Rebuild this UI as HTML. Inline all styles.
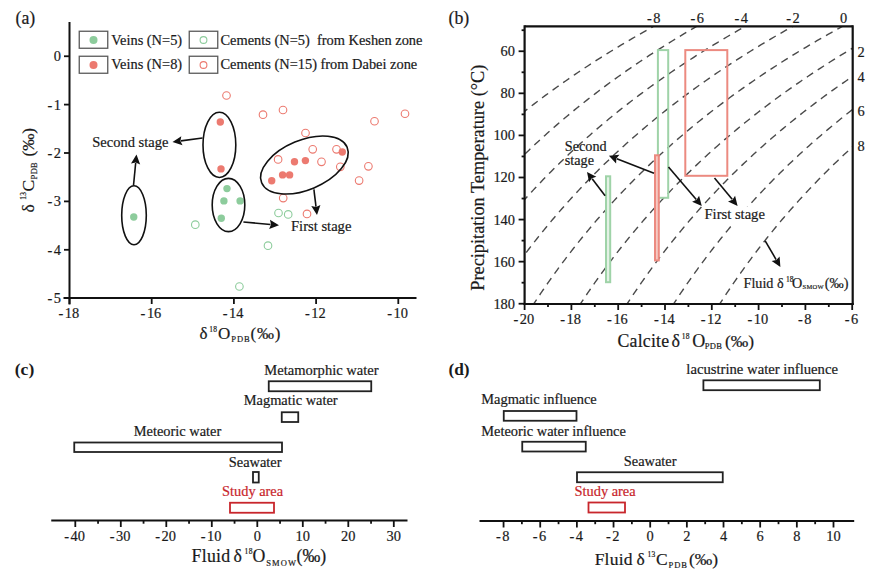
<!DOCTYPE html>
<html><head><meta charset="utf-8"><style>
html,body{margin:0;padding:0;background:#fff;}
svg{display:block;font-family:"Liberation Serif", serif;}
text{stroke-width:0.2px;}
</style></head><body>
<svg width="878" height="576" viewBox="0 0 878 576" style="font-family:&quot;Liberation Serif&quot;, serif">
<rect width="878" height="576" fill="#fff"/>
<text x="15.5" y="23.5" font-size="17.8" text-anchor="start" font-weight="normal"  fill="#1a1a1a" stroke="#1a1a1a">(a)</text>
<line x1="69.5" y1="22" x2="69.5" y2="304.5" stroke="#111" stroke-width="2"/>
<line x1="63.5" y1="298" x2="416.5" y2="298" stroke="#111" stroke-width="2"/>
<line x1="64" y1="56.25" x2="69.5" y2="56.25" stroke="#111" stroke-width="1.8"/>
<text x="61" y="61.25" font-size="14.4" text-anchor="end" fill="#1a1a1a" stroke="#1a1a1a">0</text>
<line x1="64" y1="104.6" x2="69.5" y2="104.6" stroke="#111" stroke-width="1.8"/>
<text x="61" y="109.6" font-size="14.4" text-anchor="end" fill="#1a1a1a" stroke="#1a1a1a">-<tspan dx="1.5">1</tspan></text>
<line x1="64" y1="153.0" x2="69.5" y2="153.0" stroke="#111" stroke-width="1.8"/>
<text x="61" y="158.0" font-size="14.4" text-anchor="end" fill="#1a1a1a" stroke="#1a1a1a">-<tspan dx="1.5">2</tspan></text>
<line x1="64" y1="201.4" x2="69.5" y2="201.4" stroke="#111" stroke-width="1.8"/>
<text x="61" y="206.4" font-size="14.4" text-anchor="end" fill="#1a1a1a" stroke="#1a1a1a">-<tspan dx="1.5">3</tspan></text>
<line x1="64" y1="249.8" x2="69.5" y2="249.8" stroke="#111" stroke-width="1.8"/>
<text x="61" y="254.8" font-size="14.4" text-anchor="end" fill="#1a1a1a" stroke="#1a1a1a">-<tspan dx="1.5">4</tspan></text>
<line x1="64" y1="298.0" x2="69.5" y2="298.0" stroke="#111" stroke-width="1.8"/>
<text x="61" y="303.0" font-size="14.4" text-anchor="end" fill="#1a1a1a" stroke="#1a1a1a">-<tspan dx="1.5">5</tspan></text>
<line x1="69.5" y1="298" x2="69.5" y2="304" stroke="#111" stroke-width="1.8"/>
<text x="68.75" y="317.5" font-size="14.4" text-anchor="middle" fill="#1a1a1a" stroke="#1a1a1a">-<tspan dx="1.5">18</tspan></text>
<line x1="151.7" y1="298" x2="151.7" y2="304" stroke="#111" stroke-width="1.8"/>
<text x="150.95" y="317.5" font-size="14.4" text-anchor="middle" fill="#1a1a1a" stroke="#1a1a1a">-<tspan dx="1.5">16</tspan></text>
<line x1="233.9" y1="298" x2="233.9" y2="304" stroke="#111" stroke-width="1.8"/>
<text x="233.15" y="317.5" font-size="14.4" text-anchor="middle" fill="#1a1a1a" stroke="#1a1a1a">-<tspan dx="1.5">14</tspan></text>
<line x1="316.1" y1="298" x2="316.1" y2="304" stroke="#111" stroke-width="1.8"/>
<text x="315.35" y="317.5" font-size="14.4" text-anchor="middle" fill="#1a1a1a" stroke="#1a1a1a">-<tspan dx="1.5">12</tspan></text>
<line x1="398.3" y1="298" x2="398.3" y2="304" stroke="#111" stroke-width="1.8"/>
<text x="397.55" y="317.5" font-size="14.4" text-anchor="middle" fill="#1a1a1a" stroke="#1a1a1a">-<tspan dx="1.5">10</tspan></text>
<text fill="#1a1a1a" stroke="#1a1a1a"><tspan x="199.6" y="338.9" font-size="17" letter-spacing="0">δ</tspan><tspan x="209.2" y="332.29999999999995" font-size="7.5" letter-spacing="0.3">18</tspan><tspan x="218.1" y="338.9" font-size="17" letter-spacing="0">O</tspan><tspan x="231.3" y="342.09999999999997" font-size="8.5" letter-spacing="0.9">PDB</tspan><tspan x="250.6" y="338.9" font-size="17" letter-spacing="0.8">(‰)</tspan></text>
<text transform="rotate(-90)" fill="#1a1a1a" stroke="#1a1a1a"><tspan x="-212.4" y="34" font-size="17.5" letter-spacing="0">δ</tspan><tspan x="-199.8" y="25.7" font-size="7.5" letter-spacing="0.3">13</tspan><tspan x="-191.6" y="34" font-size="17.5" letter-spacing="0">C</tspan><tspan x="-179.4" y="36.5" font-size="8.5" letter-spacing="0.3">PDB</tspan><tspan x="-156.6" y="34" font-size="17.2" letter-spacing="0">(‰)</tspan></text>
<rect x="79.25" y="31.25" width="28.5" height="17" fill="none" stroke="#5a5a5a" stroke-width="1.3"/>
<rect x="189.25" y="31.25" width="28.5" height="17" fill="none" stroke="#5a5a5a" stroke-width="1.3"/>
<rect x="79.25" y="56.25" width="28.5" height="17" fill="none" stroke="#5a5a5a" stroke-width="1.3"/>
<rect x="189.25" y="56.25" width="28.5" height="17" fill="none" stroke="#5a5a5a" stroke-width="1.3"/>
<circle cx="93.5" cy="40" r="4" fill="#8dcc9c"/>
<circle cx="203.5" cy="40" r="3.4" fill="none" stroke="#8dcc9c" stroke-width="1.1"/>
<circle cx="93.5" cy="65" r="4" fill="#ec7a70"/>
<circle cx="203.5" cy="65" r="3.4" fill="none" stroke="#ec7a70" stroke-width="1.1"/>
<text x="111.25" y="44.5" font-size="14.4" text-anchor="start" font-weight="normal"  fill="#1a1a1a" stroke="#1a1a1a">Veins (N=5)</text>
<text x="111.25" y="69" font-size="14.4" text-anchor="start" font-weight="normal"  fill="#1a1a1a" stroke="#1a1a1a">Veins (N=8)</text>
<text x="220.5" y="44.5" font-size="14.4" text-anchor="start" font-weight="normal"  fill="#1a1a1a" stroke="#1a1a1a">Cements (N=5)&#160; from Keshen zone</text>
<text x="220.5" y="69" font-size="14.4" text-anchor="start" font-weight="normal"  fill="#1a1a1a" stroke="#1a1a1a">Cements (N=15) from Dabei zone</text>
<circle cx="226.5" cy="95.5" r="3.8" fill="none" stroke="#ec7a70" stroke-width="1.1"/>
<circle cx="263" cy="114.7" r="3.8" fill="none" stroke="#ec7a70" stroke-width="1.1"/>
<circle cx="283" cy="110" r="3.8" fill="none" stroke="#ec7a70" stroke-width="1.1"/>
<circle cx="374.5" cy="121.25" r="3.8" fill="none" stroke="#ec7a70" stroke-width="1.1"/>
<circle cx="405" cy="113.75" r="3.8" fill="none" stroke="#ec7a70" stroke-width="1.1"/>
<circle cx="305.5" cy="133" r="3.8" fill="none" stroke="#ec7a70" stroke-width="1.1"/>
<circle cx="312.7" cy="149.3" r="3.8" fill="none" stroke="#ec7a70" stroke-width="1.1"/>
<circle cx="336.5" cy="149.3" r="3.8" fill="none" stroke="#ec7a70" stroke-width="1.1"/>
<circle cx="278.1" cy="159.4" r="3.8" fill="none" stroke="#ec7a70" stroke-width="1.1"/>
<circle cx="321.5" cy="161.8" r="3.8" fill="none" stroke="#ec7a70" stroke-width="1.1"/>
<circle cx="340.3" cy="166.8" r="3.8" fill="none" stroke="#ec7a70" stroke-width="1.1"/>
<circle cx="368.4" cy="166.3" r="3.8" fill="none" stroke="#ec7a70" stroke-width="1.1"/>
<circle cx="359.1" cy="180.6" r="3.8" fill="none" stroke="#ec7a70" stroke-width="1.1"/>
<circle cx="283.2" cy="198.1" r="3.8" fill="none" stroke="#ec7a70" stroke-width="1.1"/>
<circle cx="307" cy="213.9" r="3.8" fill="none" stroke="#ec7a70" stroke-width="1.1"/>
<circle cx="195.3" cy="224.7" r="3.8" fill="none" stroke="#8dcc9c" stroke-width="1.1"/>
<circle cx="278.5" cy="213" r="3.8" fill="none" stroke="#8dcc9c" stroke-width="1.1"/>
<circle cx="288.2" cy="214.4" r="3.8" fill="none" stroke="#8dcc9c" stroke-width="1.1"/>
<circle cx="268" cy="245.7" r="3.8" fill="none" stroke="#8dcc9c" stroke-width="1.1"/>
<circle cx="239.4" cy="286.5" r="3.8" fill="none" stroke="#8dcc9c" stroke-width="1.1"/>
<circle cx="220.3" cy="122" r="3.7" fill="#ec7a70"/>
<circle cx="221" cy="168.9" r="3.7" fill="#ec7a70"/>
<circle cx="342.3" cy="152" r="3.7" fill="#ec7a70"/>
<circle cx="294.5" cy="161.8" r="3.7" fill="#ec7a70"/>
<circle cx="305.4" cy="160.6" r="3.7" fill="#ec7a70"/>
<circle cx="282.6" cy="174.9" r="3.7" fill="#ec7a70"/>
<circle cx="289.6" cy="174.9" r="3.7" fill="#ec7a70"/>
<circle cx="271.7" cy="180.7" r="3.7" fill="#ec7a70"/>
<circle cx="133.75" cy="217" r="3.7" fill="#8dcc9c"/>
<circle cx="227" cy="188.6" r="3.7" fill="#8dcc9c"/>
<circle cx="223.9" cy="200.9" r="3.7" fill="#8dcc9c"/>
<circle cx="240.1" cy="200.9" r="3.7" fill="#8dcc9c"/>
<circle cx="221.3" cy="218.3" r="3.7" fill="#8dcc9c"/>
<ellipse cx="134" cy="215.3" rx="12.3" ry="29.5" transform="rotate(0 134 215.3)" fill="none" stroke="#111" stroke-width="1.6"/>
<ellipse cx="219.4" cy="144.9" rx="16.4" ry="32.6" transform="rotate(0 219.4 144.9)" fill="none" stroke="#111" stroke-width="1.6"/>
<ellipse cx="228.5" cy="205" rx="16.3" ry="26.6" transform="rotate(0 228.5 205)" fill="none" stroke="#111" stroke-width="1.6"/>
<ellipse cx="304.4" cy="165" rx="46.3" ry="24.8" transform="rotate(-22.6 304.4 165)" fill="none" stroke="#111" stroke-width="1.6"/>
<line x1="202.5" y1="138" x2="180.93" y2="140.88" stroke="#111" stroke-width="1.6"/>
<polygon points="172.50,142.00 181.31,136.18 180.43,140.94 182.52,145.30" fill="#111"/>
<line x1="133.5" y1="185.5" x2="135.68" y2="162.96" stroke="#111" stroke-width="1.6"/>
<polygon points="136.50,154.50 140.16,164.40 135.73,162.46 131.01,163.51" fill="#111"/>
<line x1="243.4" y1="222" x2="270.53" y2="224.44" stroke="#111" stroke-width="1.6"/>
<polygon points="279.00,225.20 269.13,228.93 271.03,224.48 269.95,219.77" fill="#111"/>
<line x1="313.9" y1="189.4" x2="315.98" y2="206.56" stroke="#111" stroke-width="1.6"/>
<polygon points="317.00,215.00 311.29,206.12 316.04,207.06 320.42,205.02" fill="#111"/>
<text x="92.3" y="146.9" font-size="14.5" text-anchor="start" font-weight="normal" stroke="#1a1a1a" stroke-width="0.6" fill="#1a1a1a">Second stage</text>
<text x="291" y="231.1" font-size="14.6" text-anchor="start" font-weight="normal" stroke="#1a1a1a" stroke-width="0.6" fill="#1a1a1a">First stage</text>
<text x="448.5" y="24" font-size="17.8" text-anchor="start" font-weight="normal"  fill="#1a1a1a" stroke="#1a1a1a">(b)</text>
<clipPath id="cb"><rect x="524.6" y="26.3" width="328.1" height="277.7"/></clipPath>
<g clip-path="url(#cb)" fill="none" stroke="#4a4a4a" stroke-width="1.4" stroke-dasharray="7.5 5.5">
<polyline points="347.98,305.83 349.33,303.73 350.70,301.63 352.07,299.52 353.45,297.42 354.84,295.31 356.24,293.21 357.65,291.11 359.07,289.00 360.49,286.90 361.93,284.79 363.38,282.69 364.84,280.59 366.30,278.48 367.78,276.38 369.27,274.27 370.76,272.17 372.27,270.07 373.79,267.96 375.32,265.86 376.86,263.75 378.41,261.65 379.97,259.55 381.54,257.44 383.12,255.34 384.71,253.23 386.32,251.13 387.93,249.03 389.56,246.92 391.20,244.82 392.85,242.71 394.51,240.61 396.19,238.51 397.87,236.40 399.57,234.30 401.28,232.19 403.00,230.09 404.74,227.99 406.49,225.88 408.25,223.78 410.02,221.67 411.80,219.57 413.60,217.47 415.41,215.36 417.24,213.26 419.08,211.15 420.93,209.05 422.79,206.95 424.67,204.84 426.57,202.74 428.47,200.63 430.40,198.53 432.33,196.43 434.28,194.32 436.25,192.22 438.23,190.11 440.22,188.01 442.23,185.91 444.26,183.80 446.30,181.70 448.35,179.59 450.43,177.49 452.51,175.39 454.62,173.28 456.74,171.18 458.87,169.07 461.03,166.97 463.20,164.87 465.38,162.76 467.59,160.66 469.81,158.55 472.04,156.45 474.30,154.35 476.57,152.24 478.86,150.14 481.17,148.03 483.50,145.93 485.85,143.83 488.21,141.72 490.60,139.62 493.00,137.51 495.42,135.41 497.87,133.31 500.33,131.20 502.81,129.10 505.31,126.99 507.83,124.89 510.38,122.79 512.94,120.68 515.53,118.58 518.13,116.47 520.76,114.37 523.41,112.27 526.08,110.16 528.78,108.06 531.49,105.95 534.23,103.85 537.00,101.75 539.78,99.64 542.59,97.54 545.42,95.43 548.28,93.33 551.16,91.23 554.07,89.12 557.00,87.02 559.96,84.91 562.94,82.81 565.95,80.71 568.98,78.60 572.04,76.50 575.13,74.39 578.24,72.29 581.38,70.19 584.55,68.08 587.75,65.98 590.97,63.87 594.23,61.77 597.51,59.67 600.82,57.56 604.17,55.46 607.54,53.35 610.94,51.25 614.37,49.15 617.84,47.04 621.33,44.94 624.86,42.83 628.42,40.73 632.02,38.63 635.64,36.52 639.30,34.42 642.99,32.31 646.72,30.21 650.49,28.11 654.28,26.00 658.12,23.90 661.99,21.79"/>
<polyline points="403.34,305.83 404.64,303.73 405.95,301.63 407.27,299.52 408.59,297.42 409.93,295.31 411.27,293.21 412.62,291.11 413.99,289.00 415.36,286.90 416.74,284.79 418.13,282.69 419.52,280.59 420.93,278.48 422.35,276.38 423.78,274.27 425.22,272.17 426.66,270.07 428.12,267.96 429.59,265.86 431.07,263.75 432.55,261.65 434.05,259.55 435.56,257.44 437.08,255.34 438.61,253.23 440.15,251.13 441.70,249.03 443.26,246.92 444.83,244.82 446.42,242.71 448.01,240.61 449.62,238.51 451.24,236.40 452.87,234.30 454.51,232.19 456.16,230.09 457.83,227.99 459.51,225.88 461.20,223.78 462.90,221.67 464.61,219.57 466.34,217.47 468.08,215.36 469.83,213.26 471.60,211.15 473.37,209.05 475.16,206.95 476.97,204.84 478.79,202.74 480.62,200.63 482.46,198.53 484.32,196.43 486.19,194.32 488.08,192.22 489.98,190.11 491.89,188.01 493.82,185.91 495.77,183.80 497.73,181.70 499.70,179.59 501.69,177.49 503.69,175.39 505.71,173.28 507.75,171.18 509.80,169.07 511.86,166.97 513.95,164.87 516.05,162.76 518.16,160.66 520.29,158.55 522.44,156.45 524.61,154.35 526.79,152.24 528.99,150.14 531.21,148.03 533.44,145.93 535.69,143.83 537.96,141.72 540.25,139.62 542.56,137.51 544.89,135.41 547.23,133.31 549.59,131.20 551.98,129.10 554.38,126.99 556.80,124.89 559.24,122.79 561.70,120.68 564.18,118.58 566.69,116.47 569.21,114.37 571.75,112.27 574.32,110.16 576.90,108.06 579.51,105.95 582.14,103.85 584.79,101.75 587.47,99.64 590.16,97.54 592.88,95.43 595.63,93.33 598.39,91.23 601.18,89.12 604.00,87.02 606.83,84.91 609.70,82.81 612.58,80.71 615.50,78.60 618.43,76.50 621.40,74.39 624.39,72.29 627.40,70.19 630.45,68.08 633.51,65.98 636.61,63.87 639.73,61.77 642.89,59.67 646.07,57.56 649.27,55.46 652.51,53.35 655.78,51.25 659.07,49.15 662.40,47.04 665.76,44.94 669.14,42.83 672.56,40.73 676.01,38.63 679.49,36.52 683.00,34.42 686.55,32.31 690.13,30.21 693.74,28.11 697.38,26.00 701.06,23.90 704.78,21.79"/>
<polyline points="444.37,305.83 445.71,303.73 447.05,301.63 448.40,299.52 449.76,297.42 451.13,295.31 452.51,293.21 453.89,291.11 455.29,289.00 456.69,286.90 458.11,284.79 459.54,282.69 460.97,280.59 462.41,278.48 463.87,276.38 465.33,274.27 466.81,272.17 468.29,270.07 469.79,267.96 471.29,265.86 472.81,263.75 474.33,261.65 475.87,259.55 477.42,257.44 478.97,255.34 480.54,253.23 482.12,251.13 483.71,249.03 485.32,246.92 486.93,244.82 488.55,242.71 490.19,240.61 491.84,238.51 493.50,236.40 495.17,234.30 496.85,232.19 498.55,230.09 500.26,227.99 501.98,225.88 503.71,223.78 505.46,221.67 507.21,219.57 508.99,217.47 510.77,215.36 512.57,213.26 514.38,211.15 516.20,209.05 518.04,206.95 519.89,204.84 521.75,202.74 523.63,200.63 525.52,198.53 527.43,196.43 529.35,194.32 531.28,192.22 533.23,190.11 535.20,188.01 537.18,185.91 539.17,183.80 541.18,181.70 543.20,179.59 545.24,177.49 547.30,175.39 549.37,173.28 551.46,171.18 553.56,169.07 555.68,166.97 557.82,164.87 559.97,162.76 562.14,160.66 564.32,158.55 566.53,156.45 568.75,154.35 570.99,152.24 573.24,150.14 575.52,148.03 577.81,145.93 580.12,143.83 582.45,141.72 584.80,139.62 587.16,137.51 589.55,135.41 591.95,133.31 594.38,131.20 596.82,129.10 599.28,126.99 601.77,124.89 604.27,122.79 606.80,120.68 609.34,118.58 611.91,116.47 614.49,114.37 617.10,112.27 619.73,110.16 622.39,108.06 625.06,105.95 627.76,103.85 630.48,101.75 633.22,99.64 635.99,97.54 638.78,95.43 641.59,93.33 644.43,91.23 647.29,89.12 650.18,87.02 653.09,84.91 656.02,82.81 658.98,80.71 661.97,78.60 664.98,76.50 668.02,74.39 671.09,72.29 674.18,70.19 677.30,68.08 680.45,65.98 683.63,63.87 686.83,61.77 690.06,59.67 693.32,57.56 696.62,55.46 699.94,53.35 703.29,51.25 706.67,49.15 710.08,47.04 713.52,44.94 716.99,42.83 720.50,40.73 724.04,38.63 727.61,36.52 731.21,34.42 734.85,32.31 738.52,30.21 742.22,28.11 745.96,26.00 749.73,23.90 753.54,21.79"/>
<polyline points="489.19,305.83 490.54,303.73 491.89,301.63 493.25,299.52 494.62,297.42 496.01,295.31 497.40,293.21 498.80,291.11 500.20,289.00 501.62,286.90 503.05,284.79 504.49,282.69 505.94,280.59 507.39,278.48 508.86,276.38 510.34,274.27 511.83,272.17 513.32,270.07 514.83,267.96 516.35,265.86 517.88,263.75 519.42,261.65 520.97,259.55 522.53,257.44 524.10,255.34 525.68,253.23 527.28,251.13 528.88,249.03 530.50,246.92 532.13,244.82 533.77,242.71 535.42,240.61 537.08,238.51 538.76,236.40 540.44,234.30 542.14,232.19 543.85,230.09 545.58,227.99 547.31,225.88 549.06,223.78 550.82,221.67 552.59,219.57 554.38,217.47 556.18,215.36 557.99,213.26 559.82,211.15 561.66,209.05 563.51,206.95 565.38,204.84 567.26,202.74 569.16,200.63 571.06,198.53 572.99,196.43 574.93,194.32 576.88,192.22 578.84,190.11 580.83,188.01 582.82,185.91 584.83,183.80 586.86,181.70 588.90,179.59 590.96,177.49 593.04,175.39 595.13,173.28 597.23,171.18 599.35,169.07 601.49,166.97 603.65,164.87 605.82,162.76 608.01,160.66 610.21,158.55 612.44,156.45 614.68,154.35 616.94,152.24 619.21,150.14 621.51,148.03 623.82,145.93 626.15,143.83 628.50,141.72 630.87,139.62 633.26,137.51 635.66,135.41 638.09,133.31 640.53,131.20 643.00,129.10 645.49,126.99 647.99,124.89 650.52,122.79 653.06,120.68 655.63,118.58 658.22,116.47 660.83,114.37 663.46,112.27 666.12,110.16 668.80,108.06 671.49,105.95 674.22,103.85 676.96,101.75 679.73,99.64 682.52,97.54 685.33,95.43 688.17,93.33 691.03,91.23 693.92,89.12 696.83,87.02 699.77,84.91 702.73,82.81 705.72,80.71 708.73,78.60 711.77,76.50 714.84,74.39 717.93,72.29 721.05,70.19 724.20,68.08 727.38,65.98 730.58,63.87 733.82,61.77 737.08,59.67 740.37,57.56 743.69,55.46 747.04,53.35 750.42,51.25 753.83,49.15 757.27,47.04 760.74,44.94 764.25,42.83 767.78,40.73 771.35,38.63 774.96,36.52 778.59,34.42 782.26,32.31 785.96,30.21 789.70,28.11 793.47,26.00 797.28,23.90 801.13,21.79"/>
<polyline points="532.47,305.83 533.85,303.73 535.23,301.63 536.62,299.52 538.02,297.42 539.43,295.31 540.85,293.21 542.28,291.11 543.72,289.00 545.17,286.90 546.63,284.79 548.10,282.69 549.57,280.59 551.06,278.48 552.56,276.38 554.07,274.27 555.59,272.17 557.12,270.07 558.66,267.96 560.21,265.86 561.77,263.75 563.34,261.65 564.93,259.55 566.52,257.44 568.13,255.34 569.74,253.23 571.37,251.13 573.01,249.03 574.66,246.92 576.32,244.82 578.00,242.71 579.68,240.61 581.38,238.51 583.09,236.40 584.81,234.30 586.55,232.19 588.30,230.09 590.06,227.99 591.83,225.88 593.61,223.78 595.41,221.67 597.22,219.57 599.05,217.47 600.89,215.36 602.74,213.26 604.60,211.15 606.48,209.05 608.38,206.95 610.28,204.84 612.20,202.74 614.14,200.63 616.09,198.53 618.05,196.43 620.03,194.32 622.02,192.22 624.03,190.11 626.06,188.01 628.10,185.91 630.15,183.80 632.22,181.70 634.31,179.59 636.41,177.49 638.53,175.39 640.66,173.28 642.81,171.18 644.98,169.07 647.16,166.97 649.36,164.87 651.58,162.76 653.82,160.66 656.07,158.55 658.34,156.45 660.63,154.35 662.93,152.24 665.26,150.14 667.60,148.03 669.96,145.93 672.34,143.83 674.74,141.72 677.16,139.62 679.60,137.51 682.06,135.41 684.54,133.31 687.03,131.20 689.55,129.10 692.09,126.99 694.65,124.89 697.23,122.79 699.83,120.68 702.45,118.58 705.10,116.47 707.76,114.37 710.45,112.27 713.16,110.16 715.90,108.06 718.65,105.95 721.43,103.85 724.23,101.75 727.06,99.64 729.91,97.54 732.78,95.43 735.68,93.33 738.61,91.23 741.56,89.12 744.53,87.02 747.53,84.91 750.55,82.81 753.61,80.71 756.68,78.60 759.79,76.50 762.92,74.39 766.08,72.29 769.27,70.19 772.48,68.08 775.72,65.98 779.00,63.87 782.30,61.77 785.63,59.67 788.99,57.56 792.38,55.46 795.80,53.35 799.25,51.25 802.74,49.15 806.25,47.04 809.80,44.94 813.38,42.83 816.99,40.73 820.63,38.63 824.31,36.52 828.03,34.42 831.77,32.31 835.55,30.21 839.37,28.11 843.22,26.00 847.11,23.90 851.04,21.79"/>
<polyline points="579.15,305.83 580.53,303.73 581.92,301.63 583.32,299.52 584.73,297.42 586.15,295.31 587.58,293.21 589.01,291.11 590.46,289.00 591.92,286.90 593.38,284.79 594.86,282.69 596.35,280.59 597.84,278.48 599.35,276.38 600.87,274.27 602.40,272.17 603.93,270.07 605.48,267.96 607.04,265.86 608.61,263.75 610.19,261.65 611.79,259.55 613.39,257.44 615.00,255.34 616.63,253.23 618.27,251.13 619.91,249.03 621.57,246.92 623.25,244.82 624.93,242.71 626.63,240.61 628.33,238.51 630.05,236.40 631.79,234.30 633.53,232.19 635.29,230.09 637.06,227.99 638.84,225.88 640.64,223.78 642.44,221.67 644.27,219.57 646.10,217.47 647.95,215.36 649.81,213.26 651.69,211.15 653.58,209.05 655.48,206.95 657.40,204.84 659.33,202.74 661.27,200.63 663.24,198.53 665.21,196.43 667.20,194.32 669.21,192.22 671.23,190.11 673.26,188.01 675.31,185.91 677.38,183.80 679.46,181.70 681.56,179.59 683.67,177.49 685.80,175.39 687.95,173.28 690.11,171.18 692.29,169.07 694.48,166.97 696.70,164.87 698.93,162.76 701.18,160.66 703.44,158.55 705.73,156.45 708.03,154.35 710.35,152.24 712.68,150.14 715.04,148.03 717.42,145.93 719.81,143.83 722.22,141.72 724.65,139.62 727.11,137.51 729.58,135.41 732.07,133.31 734.58,131.20 737.11,129.10 739.67,126.99 742.24,124.89 744.83,122.79 747.45,120.68 750.09,118.58 752.75,116.47 755.43,114.37 758.13,112.27 760.86,110.16 763.61,108.06 766.38,105.95 769.17,103.85 771.99,101.75 774.83,99.64 777.70,97.54 780.59,95.43 783.51,93.33 786.45,91.23 789.41,89.12 792.40,87.02 795.42,84.91 798.46,82.81 801.53,80.71 804.62,78.60 807.75,76.50 810.90,74.39 814.07,72.29 817.28,70.19 820.51,68.08 823.77,65.98 827.06,63.87 830.38,61.77 833.73,59.67 837.11,57.56 840.52,55.46 843.96,53.35 847.43,51.25 850.94,49.15 854.47,47.04 858.04,44.94 861.64,42.83 865.27,40.73 868.93,38.63 872.63,36.52 876.37,34.42 880.14,32.31 883.94,30.21 887.78,28.11 891.65,26.00 895.56,23.90 899.51,21.79"/>
<polyline points="625.83,305.83 627.20,303.73 628.58,301.63 629.97,299.52 631.36,297.42 632.77,295.31 634.19,293.21 635.61,291.11 637.05,289.00 638.49,286.90 639.94,284.79 641.41,282.69 642.88,280.59 644.36,278.48 645.86,276.38 647.36,274.27 648.88,272.17 650.40,270.07 651.94,267.96 653.48,265.86 655.04,263.75 656.61,261.65 658.19,259.55 659.78,257.44 661.38,255.34 662.99,253.23 664.61,251.13 666.25,249.03 667.89,246.92 669.55,244.82 671.22,242.71 672.90,240.61 674.59,238.51 676.30,236.40 678.01,234.30 679.74,232.19 681.49,230.09 683.24,227.99 685.01,225.88 686.79,223.78 688.58,221.67 690.39,219.57 692.21,217.47 694.04,215.36 695.88,213.26 697.74,211.15 699.62,209.05 701.50,206.95 703.40,204.84 705.32,202.74 707.25,200.63 709.19,198.53 711.15,196.43 713.12,194.32 715.11,192.22 717.11,190.11 719.13,188.01 721.16,185.91 723.21,183.80 725.28,181.70 727.36,179.59 729.45,177.49 731.56,175.39 733.69,173.28 735.83,171.18 738.00,169.07 740.17,166.97 742.37,164.87 744.58,162.76 746.81,160.66 749.05,158.55 751.32,156.45 753.60,154.35 755.90,152.24 758.21,150.14 760.55,148.03 762.91,145.93 765.28,143.83 767.67,141.72 770.08,139.62 772.51,137.51 774.96,135.41 777.43,133.31 779.92,131.20 782.43,129.10 784.96,126.99 787.52,124.89 790.09,122.79 792.68,120.68 795.30,118.58 797.93,116.47 800.59,114.37 803.27,112.27 805.97,110.16 808.70,108.06 811.45,105.95 814.22,103.85 817.01,101.75 819.83,99.64 822.67,97.54 825.54,95.43 828.43,93.33 831.34,91.23 834.28,89.12 837.24,87.02 840.23,84.91 843.25,82.81 846.29,80.71 849.36,78.60 852.46,76.50 855.58,74.39 858.73,72.29 861.91,70.19 865.11,68.08 868.35,65.98 871.61,63.87 874.90,61.77 878.22,59.67 881.57,57.56 884.95,55.46 888.36,53.35 891.80,51.25 895.27,49.15 898.78,47.04 902.31,44.94 905.88,42.83 909.48,40.73 913.12,38.63 916.79,36.52 920.49,34.42 924.22,32.31 927.99,30.21 931.80,28.11 935.64,26.00 939.52,23.90 943.43,21.79"/>
<polyline points="672.37,305.83 673.74,303.73 675.11,301.63 676.49,299.52 677.88,297.42 679.28,295.31 680.69,293.21 682.11,291.11 683.54,289.00 684.98,286.90 686.42,284.79 687.88,282.69 689.35,280.59 690.83,278.48 692.31,276.38 693.81,274.27 695.32,272.17 696.84,270.07 698.37,267.96 699.90,265.86 701.45,263.75 703.02,261.65 704.59,259.55 706.17,257.44 707.76,255.34 709.37,253.23 710.98,251.13 712.61,249.03 714.25,246.92 715.90,244.82 717.56,242.71 719.24,240.61 720.92,238.51 722.62,236.40 724.33,234.30 726.05,232.19 727.79,230.09 729.53,227.99 731.29,225.88 733.06,223.78 734.85,221.67 736.65,219.57 738.46,217.47 740.28,215.36 742.12,213.26 743.97,211.15 745.84,209.05 747.72,206.95 749.61,204.84 751.51,202.74 753.44,200.63 755.37,198.53 757.32,196.43 759.28,194.32 761.26,192.22 763.26,190.11 765.27,188.01 767.29,185.91 769.33,183.80 771.38,181.70 773.46,179.59 775.54,177.49 777.64,175.39 779.76,173.28 781.90,171.18 784.05,169.07 786.22,166.97 788.40,164.87 790.60,162.76 792.82,160.66 795.06,158.55 797.31,156.45 799.58,154.35 801.87,152.24 804.18,150.14 806.51,148.03 808.85,145.93 811.21,143.83 813.60,141.72 816.00,139.62 818.42,137.51 820.86,135.41 823.32,133.31 825.79,131.20 828.29,129.10 830.81,126.99 833.35,124.89 835.91,122.79 838.50,120.68 841.10,118.58 843.72,116.47 846.37,114.37 849.04,112.27 851.73,110.16 854.44,108.06 857.18,105.95 859.94,103.85 862.72,101.75 865.53,99.64 868.35,97.54 871.21,95.43 874.09,93.33 876.99,91.23 879.91,89.12 882.87,87.02 885.84,84.91 888.85,82.81 891.88,80.71 894.93,78.60 898.01,76.50 901.12,74.39 904.26,72.29 907.42,70.19 910.61,68.08 913.83,65.98 917.08,63.87 920.36,61.77 923.66,59.67 927.00,57.56 930.36,55.46 933.76,53.35 937.19,51.25 940.64,49.15 944.13,47.04 947.65,44.94 951.21,42.83 954.79,40.73 958.41,38.63 962.06,36.52 965.75,34.42 969.47,32.31 973.22,30.21 977.01,28.11 980.83,26.00 984.69,23.90 988.59,21.79"/>
<polyline points="718.53,305.83 719.88,303.73 721.24,301.63 722.61,299.52 723.98,297.42 725.37,295.31 726.76,293.21 728.17,291.11 729.58,289.00 731.00,286.90 732.43,284.79 733.88,282.69 735.33,280.59 736.79,278.48 738.26,276.38 739.74,274.27 741.24,272.17 742.74,270.07 744.25,267.96 745.77,265.86 747.31,263.75 748.85,261.65 750.41,259.55 751.97,257.44 753.55,255.34 755.14,253.23 756.74,251.13 758.35,249.03 759.97,246.92 761.60,244.82 763.25,242.71 764.90,240.61 766.57,238.51 768.25,236.40 769.94,234.30 771.65,232.19 773.36,230.09 775.09,227.99 776.83,225.88 778.59,223.78 780.35,221.67 782.13,219.57 783.92,217.47 785.73,215.36 787.55,213.26 789.38,211.15 791.23,209.05 793.08,206.95 794.96,204.84 796.84,202.74 798.74,200.63 800.66,198.53 802.59,196.43 804.53,194.32 806.49,192.22 808.46,190.11 810.45,188.01 812.45,185.91 814.47,183.80 816.51,181.70 818.55,179.59 820.62,177.49 822.70,175.39 824.80,173.28 826.91,171.18 829.04,169.07 831.18,166.97 833.34,164.87 835.52,162.76 837.72,160.66 839.93,158.55 842.16,156.45 844.41,154.35 846.67,152.24 848.96,150.14 851.26,148.03 853.58,145.93 855.92,143.83 858.27,141.72 860.65,139.62 863.04,137.51 865.46,135.41 867.89,133.31 870.34,131.20 872.82,129.10 875.31,126.99 877.82,124.89 880.36,122.79 882.91,120.68 885.49,118.58 888.09,116.47 890.71,114.37 893.35,112.27 896.01,110.16 898.69,108.06 901.40,105.95 904.13,103.85 906.88,101.75 909.66,99.64 912.46,97.54 915.28,95.43 918.13,93.33 921.00,91.23 923.90,89.12 926.82,87.02 929.76,84.91 932.74,82.81 935.73,80.71 938.76,78.60 941.81,76.50 944.88,74.39 947.98,72.29 951.11,70.19 954.27,68.08 957.46,65.98 960.67,63.87 963.92,61.77 967.19,59.67 970.49,57.56 973.82,55.46 977.18,53.35 980.57,51.25 983.99,49.15 987.44,47.04 990.93,44.94 994.44,42.83 997.99,40.73 1001.57,38.63 1005.18,36.52 1008.83,34.42 1012.51,32.31 1016.22,30.21 1019.97,28.11 1023.76,26.00 1027.58,23.90 1031.43,21.79"/>
</g>
<rect x="657.9" y="50.1" width="10.300000000000068" height="147.70000000000002" fill="none" stroke="#9fd3a8" stroke-width="2"/>
<rect x="685.3" y="50.1" width="42.0" height="125.70000000000002" fill="none" stroke="#ec8a80" stroke-width="2"/>
<rect x="606" y="176.3" width="4.2000000000000455" height="105.89999999999998" fill="#e3f2e5" stroke="#9fd3a8" stroke-width="2"/>
<rect x="655" y="155.3" width="3.7999999999999545" height="105.09999999999997" fill="#f6c9c2" stroke="#ec8a80" stroke-width="2"/>
<line x1="524.6" y1="26.3" x2="852.7" y2="26.3" stroke="#111" stroke-width="2.2"/>
<line x1="524.6" y1="25.3" x2="524.6" y2="305" stroke="#111" stroke-width="2.2"/>
<line x1="852.7" y1="25.3" x2="852.7" y2="305" stroke="#111" stroke-width="2.2"/>
<line x1="523.6" y1="304" x2="853.7" y2="304" stroke="#111" stroke-width="2.2"/>
<line x1="521.6" y1="30.21" x2="524.6" y2="30.21" stroke="#111" stroke-width="1.8"/>
<line x1="518.6" y1="51.25" x2="524.6" y2="51.25" stroke="#111" stroke-width="1.8"/>
<text x="515" y="56.25" font-size="14.4" text-anchor="end" font-weight="normal"  fill="#1a1a1a" stroke="#1a1a1a">60</text>
<line x1="521.6" y1="72.28999999999999" x2="524.6" y2="72.28999999999999" stroke="#111" stroke-width="1.8"/>
<line x1="518.6" y1="93.33" x2="524.6" y2="93.33" stroke="#111" stroke-width="1.8"/>
<text x="515" y="98.33" font-size="14.4" text-anchor="end" font-weight="normal"  fill="#1a1a1a" stroke="#1a1a1a">80</text>
<line x1="521.6" y1="114.37" x2="524.6" y2="114.37" stroke="#111" stroke-width="1.8"/>
<line x1="518.6" y1="135.41" x2="524.6" y2="135.41" stroke="#111" stroke-width="1.8"/>
<text x="515" y="140.41" font-size="14.4" text-anchor="end" font-weight="normal"  fill="#1a1a1a" stroke="#1a1a1a">100</text>
<line x1="521.6" y1="156.45" x2="524.6" y2="156.45" stroke="#111" stroke-width="1.8"/>
<line x1="518.6" y1="177.49" x2="524.6" y2="177.49" stroke="#111" stroke-width="1.8"/>
<text x="515" y="182.49" font-size="14.4" text-anchor="end" font-weight="normal"  fill="#1a1a1a" stroke="#1a1a1a">120</text>
<line x1="521.6" y1="198.53" x2="524.6" y2="198.53" stroke="#111" stroke-width="1.8"/>
<line x1="518.6" y1="219.57" x2="524.6" y2="219.57" stroke="#111" stroke-width="1.8"/>
<text x="515" y="224.57" font-size="14.4" text-anchor="end" font-weight="normal"  fill="#1a1a1a" stroke="#1a1a1a">140</text>
<line x1="521.6" y1="240.61" x2="524.6" y2="240.61" stroke="#111" stroke-width="1.8"/>
<line x1="518.6" y1="261.65" x2="524.6" y2="261.65" stroke="#111" stroke-width="1.8"/>
<text x="515" y="266.65" font-size="14.4" text-anchor="end" font-weight="normal"  fill="#1a1a1a" stroke="#1a1a1a">160</text>
<line x1="521.6" y1="282.69" x2="524.6" y2="282.69" stroke="#111" stroke-width="1.8"/>
<line x1="518.6" y1="303.73" x2="524.6" y2="303.73" stroke="#111" stroke-width="1.8"/>
<text x="515" y="308.73" font-size="14.4" text-anchor="end" font-weight="normal"  fill="#1a1a1a" stroke="#1a1a1a">180</text>
<line x1="524.6" y1="304" x2="524.6" y2="310" stroke="#111" stroke-width="1.8"/>
<text x="523.85" y="323.5" font-size="14.4" text-anchor="middle" fill="#1a1a1a" stroke="#1a1a1a">-<tspan dx="1.5">20</tspan></text>
<line x1="548.0" y1="304" x2="548.0" y2="307" stroke="#111" stroke-width="1.8"/>
<line x1="571.4" y1="304" x2="571.4" y2="310" stroke="#111" stroke-width="1.8"/>
<text x="570.65" y="323.5" font-size="14.4" text-anchor="middle" fill="#1a1a1a" stroke="#1a1a1a">-<tspan dx="1.5">18</tspan></text>
<line x1="594.8" y1="304" x2="594.8" y2="307" stroke="#111" stroke-width="1.8"/>
<line x1="618.2" y1="304" x2="618.2" y2="310" stroke="#111" stroke-width="1.8"/>
<text x="617.45" y="323.5" font-size="14.4" text-anchor="middle" fill="#1a1a1a" stroke="#1a1a1a">-<tspan dx="1.5">16</tspan></text>
<line x1="641.6" y1="304" x2="641.6" y2="307" stroke="#111" stroke-width="1.8"/>
<line x1="665.0" y1="304" x2="665.0" y2="310" stroke="#111" stroke-width="1.8"/>
<text x="664.25" y="323.5" font-size="14.4" text-anchor="middle" fill="#1a1a1a" stroke="#1a1a1a">-<tspan dx="1.5">14</tspan></text>
<line x1="688.4" y1="304" x2="688.4" y2="307" stroke="#111" stroke-width="1.8"/>
<line x1="711.8" y1="304" x2="711.8" y2="310" stroke="#111" stroke-width="1.8"/>
<text x="711.05" y="323.5" font-size="14.4" text-anchor="middle" fill="#1a1a1a" stroke="#1a1a1a">-<tspan dx="1.5">12</tspan></text>
<line x1="735.2" y1="304" x2="735.2" y2="307" stroke="#111" stroke-width="1.8"/>
<line x1="758.6" y1="304" x2="758.6" y2="310" stroke="#111" stroke-width="1.8"/>
<text x="757.85" y="323.5" font-size="14.4" text-anchor="middle" fill="#1a1a1a" stroke="#1a1a1a">-<tspan dx="1.5">10</tspan></text>
<line x1="782.0" y1="304" x2="782.0" y2="307" stroke="#111" stroke-width="1.8"/>
<line x1="805.4" y1="304" x2="805.4" y2="310" stroke="#111" stroke-width="1.8"/>
<text x="804.65" y="323.5" font-size="14.4" text-anchor="middle" fill="#1a1a1a" stroke="#1a1a1a">-<tspan dx="1.5">8</tspan></text>
<line x1="828.8" y1="304" x2="828.8" y2="307" stroke="#111" stroke-width="1.8"/>
<line x1="852.2" y1="304" x2="852.2" y2="310" stroke="#111" stroke-width="1.8"/>
<text x="851.45" y="323.5" font-size="14.4" text-anchor="middle" fill="#1a1a1a" stroke="#1a1a1a">-<tspan dx="1.5">6</tspan></text>
<text x="653.75" y="23" font-size="14.4" text-anchor="middle" fill="#1a1a1a" stroke="#1a1a1a">-<tspan dx="1.5">8</tspan></text>
<text x="697.25" y="23" font-size="14.4" text-anchor="middle" fill="#1a1a1a" stroke="#1a1a1a">-<tspan dx="1.5">6</tspan></text>
<text x="741.25" y="23" font-size="14.4" text-anchor="middle" fill="#1a1a1a" stroke="#1a1a1a">-<tspan dx="1.5">4</tspan></text>
<text x="793.0" y="23" font-size="14.4" text-anchor="middle" fill="#1a1a1a" stroke="#1a1a1a">-<tspan dx="1.5">2</tspan></text>
<text x="843.5" y="23" font-size="14.4" text-anchor="middle" fill="#1a1a1a" stroke="#1a1a1a">0</text>
<text x="861" y="56.5" font-size="14.4" text-anchor="middle" font-weight="normal"  fill="#1a1a1a" stroke="#1a1a1a">2</text>
<text x="861" y="82.1" font-size="14.4" text-anchor="middle" font-weight="normal"  fill="#1a1a1a" stroke="#1a1a1a">4</text>
<text x="861" y="116.2" font-size="14.4" text-anchor="middle" font-weight="normal"  fill="#1a1a1a" stroke="#1a1a1a">6</text>
<text x="861" y="151.4" font-size="14.4" text-anchor="middle" font-weight="normal"  fill="#1a1a1a" stroke="#1a1a1a">8</text>
<text transform="translate(484,177.7) rotate(-90)" text-anchor="middle" font-size="18.3" fill="#1a1a1a" stroke="#1a1a1a">Precipitation Temperature (°C)</text>
<text fill="#1a1a1a" stroke="#1a1a1a"><tspan x="617.5" y="346.5" font-size="17.8" letter-spacing="0.2">Calcite</tspan><tspan x="671.5" y="346.5" font-size="18" letter-spacing="0">δ</tspan><tspan x="681.8" y="339.3" font-size="7.5" letter-spacing="0.3">18</tspan><tspan x="692.2" y="346.5" font-size="18" letter-spacing="0">O</tspan><tspan x="704.7" y="349.4" font-size="8.5" letter-spacing="0.4">PDB</tspan><tspan x="725" y="346.5" font-size="17.5" letter-spacing="0">(‰)</tspan></text>
<text x="564.8" y="151" font-size="14.2" text-anchor="start" font-weight="normal"  fill="#1a1a1a" stroke="#1a1a1a">Second</text>
<text x="564.8" y="165.1" font-size="14.2" text-anchor="start" font-weight="normal"  fill="#1a1a1a" stroke="#1a1a1a">stage</text>
<line x1="654" y1="173.2" x2="616.82" y2="158.77" stroke="#111" stroke-width="1.6"/>
<polygon points="608.90,155.70 619.42,154.85 616.36,158.59 616.09,163.43" fill="#111"/>
<line x1="605.1" y1="195.8" x2="592.15" y2="178.77" stroke="#111" stroke-width="1.6"/>
<polygon points="587.00,172.00 596.41,176.78 591.84,178.37 589.09,182.35" fill="#111"/>
<line x1="668.5" y1="167.1" x2="696.26" y2="199.45" stroke="#111" stroke-width="1.6"/>
<polygon points="701.80,205.90 692.12,201.69 696.59,199.83 699.10,195.70" fill="#111"/>
<line x1="714.5" y1="178" x2="732.18" y2="199.35" stroke="#111" stroke-width="1.6"/>
<polygon points="737.60,205.90 728.00,201.52 732.50,199.74 735.08,195.65" fill="#111"/>
<line x1="765.2" y1="240.8" x2="776.12" y2="259.55" stroke="#111" stroke-width="1.6"/>
<polygon points="780.40,266.90 771.64,261.01 776.37,259.99 779.59,256.38" fill="#111"/>
<rect x="703" y="207" width="64" height="16" fill="#fff"/>
<text x="704.5" y="218.6" font-size="14.6" text-anchor="start" font-weight="normal" stroke="#1a1a1a" stroke-width="0.6" fill="#1a1a1a">First stage</text>
<text fill="#1a1a1a" stroke="#1a1a1a"><tspan x="743.5" y="287.7" font-size="14.2" letter-spacing="0">Fluid</tspan><tspan x="777" y="287.7" font-size="14.2" letter-spacing="0">δ</tspan><tspan x="786" y="281.7" font-size="7.5" letter-spacing="0">18</tspan><tspan x="792" y="287.7" font-size="14.2" letter-spacing="0">O</tspan><tspan x="802.6" y="289.2" font-size="6.5" letter-spacing="0.3">SMOW</tspan><tspan x="824.8" y="287.7" font-size="14.2" letter-spacing="0">(‰)</tspan></text>
<text x="14.8" y="374.5" font-size="17.5" text-anchor="start" font-weight="bold"  fill="#1a1a1a">(c)</text>
<line x1="51.25" y1="520.5" x2="407.5" y2="520.5" stroke="#111" stroke-width="2.2"/>
<line x1="75.30000000000001" y1="520.5" x2="75.30000000000001" y2="527.0" stroke="#111" stroke-width="1.8"/>
<text x="74.55000000000001" y="541.25" font-size="14.4" text-anchor="middle" fill="#1a1a1a" stroke="#1a1a1a">-<tspan dx="1.5">40</tspan></text>
<line x1="98.05000000000001" y1="520.5" x2="98.05000000000001" y2="523.7" stroke="#111" stroke-width="1.8"/>
<line x1="120.80000000000001" y1="520.5" x2="120.80000000000001" y2="527.0" stroke="#111" stroke-width="1.8"/>
<text x="120.05000000000001" y="541.25" font-size="14.4" text-anchor="middle" fill="#1a1a1a" stroke="#1a1a1a">-<tspan dx="1.5">30</tspan></text>
<line x1="143.55" y1="520.5" x2="143.55" y2="523.7" stroke="#111" stroke-width="1.8"/>
<line x1="166.3" y1="520.5" x2="166.3" y2="527.0" stroke="#111" stroke-width="1.8"/>
<text x="165.55" y="541.25" font-size="14.4" text-anchor="middle" fill="#1a1a1a" stroke="#1a1a1a">-<tspan dx="1.5">20</tspan></text>
<line x1="189.05" y1="520.5" x2="189.05" y2="523.7" stroke="#111" stroke-width="1.8"/>
<line x1="211.8" y1="520.5" x2="211.8" y2="527.0" stroke="#111" stroke-width="1.8"/>
<text x="211.05" y="541.25" font-size="14.4" text-anchor="middle" fill="#1a1a1a" stroke="#1a1a1a">-<tspan dx="1.5">10</tspan></text>
<line x1="234.55" y1="520.5" x2="234.55" y2="523.7" stroke="#111" stroke-width="1.8"/>
<line x1="257.3" y1="520.5" x2="257.3" y2="527.0" stroke="#111" stroke-width="1.8"/>
<text x="257.3" y="541.25" font-size="14.4" text-anchor="middle" fill="#1a1a1a" stroke="#1a1a1a">0</text>
<line x1="280.05" y1="520.5" x2="280.05" y2="523.7" stroke="#111" stroke-width="1.8"/>
<line x1="302.8" y1="520.5" x2="302.8" y2="527.0" stroke="#111" stroke-width="1.8"/>
<text x="302.8" y="541.25" font-size="14.4" text-anchor="middle" fill="#1a1a1a" stroke="#1a1a1a">10</text>
<line x1="325.55" y1="520.5" x2="325.55" y2="523.7" stroke="#111" stroke-width="1.8"/>
<line x1="348.3" y1="520.5" x2="348.3" y2="527.0" stroke="#111" stroke-width="1.8"/>
<text x="348.3" y="541.25" font-size="14.4" text-anchor="middle" fill="#1a1a1a" stroke="#1a1a1a">20</text>
<line x1="371.05" y1="520.5" x2="371.05" y2="523.7" stroke="#111" stroke-width="1.8"/>
<line x1="393.8" y1="520.5" x2="393.8" y2="527.0" stroke="#111" stroke-width="1.8"/>
<text x="393.8" y="541.25" font-size="14.4" text-anchor="middle" fill="#1a1a1a" stroke="#1a1a1a">30</text>
<text fill="#1a1a1a" stroke="#1a1a1a"><tspan x="191.5" y="562.4" font-size="17.8" letter-spacing="0.3">Fluid</tspan><tspan x="233.5" y="562.4" font-size="17.8" letter-spacing="0">δ</tspan><tspan x="244.6" y="554.4" font-size="7.5" letter-spacing="0.3">18</tspan><tspan x="252.6" y="562.4" font-size="17.8" letter-spacing="0">O</tspan><tspan x="266.2" y="565.6999999999999" font-size="8.5" letter-spacing="1.1">SMOW</tspan><tspan x="296.6" y="562.4" font-size="17.8" letter-spacing="0">(‰)</tspan></text>
<rect x="268.75" y="381.25" width="102.5" height="10.0" fill="none" stroke="#222" stroke-width="1.8"/>
<text x="264.3" y="375" font-size="14.55" text-anchor="start" font-weight="normal"  fill="#1a1a1a" stroke="#1a1a1a">Metamorphic water</text>
<rect x="281.75" y="412.25" width="16.5" height="9.75" fill="none" stroke="#222" stroke-width="1.8"/>
<text x="243.75" y="405" font-size="14.4" text-anchor="start" font-weight="normal"  fill="#1a1a1a" stroke="#1a1a1a">Magmatic water</text>
<rect x="74.25" y="442.5" width="207.75" height="9.5" fill="none" stroke="#222" stroke-width="1.8"/>
<text x="133.75" y="436.25" font-size="14.4" text-anchor="start" font-weight="normal"  fill="#1a1a1a" stroke="#1a1a1a">Meteoric water</text>
<rect x="253" y="472" width="5.75" height="10.5" fill="none" stroke="#222" stroke-width="1.8"/>
<text x="228.75" y="466.75" font-size="14.4" text-anchor="start" font-weight="normal"  fill="#1a1a1a" stroke="#1a1a1a">Seawater</text>
<rect x="230" y="502.75" width="44" height="10.0" fill="none" stroke="#c8262c" stroke-width="1.8"/>
<text x="222" y="496.25" font-size="14.4" text-anchor="start" font-weight="normal"  fill="#c8262c" stroke="#c8262c">Study area</text>
<text x="448.5" y="374.5" font-size="17.3" text-anchor="start" font-weight="bold"  fill="#1a1a1a">(d)</text>
<line x1="479.5" y1="521" x2="854.2" y2="521" stroke="#111" stroke-width="2.2"/>
<line x1="503.56000000000006" y1="521" x2="503.56000000000006" y2="527.5" stroke="#111" stroke-width="1.8"/>
<text x="502.81000000000006" y="541.25" font-size="14.4" text-anchor="middle" fill="#1a1a1a" stroke="#1a1a1a">-<tspan dx="1.5">8</tspan></text>
<line x1="521.8900000000001" y1="521" x2="521.8900000000001" y2="524.2" stroke="#111" stroke-width="1.8"/>
<line x1="540.22" y1="521" x2="540.22" y2="527.5" stroke="#111" stroke-width="1.8"/>
<text x="539.47" y="541.25" font-size="14.4" text-anchor="middle" fill="#1a1a1a" stroke="#1a1a1a">-<tspan dx="1.5">6</tspan></text>
<line x1="558.5500000000001" y1="521" x2="558.5500000000001" y2="524.2" stroke="#111" stroke-width="1.8"/>
<line x1="576.8800000000001" y1="521" x2="576.8800000000001" y2="527.5" stroke="#111" stroke-width="1.8"/>
<text x="576.1300000000001" y="541.25" font-size="14.4" text-anchor="middle" fill="#1a1a1a" stroke="#1a1a1a">-<tspan dx="1.5">4</tspan></text>
<line x1="595.21" y1="521" x2="595.21" y2="524.2" stroke="#111" stroke-width="1.8"/>
<line x1="613.5400000000001" y1="521" x2="613.5400000000001" y2="527.5" stroke="#111" stroke-width="1.8"/>
<text x="612.7900000000001" y="541.25" font-size="14.4" text-anchor="middle" fill="#1a1a1a" stroke="#1a1a1a">-<tspan dx="1.5">2</tspan></text>
<line x1="631.87" y1="521" x2="631.87" y2="524.2" stroke="#111" stroke-width="1.8"/>
<line x1="650.2" y1="521" x2="650.2" y2="527.5" stroke="#111" stroke-width="1.8"/>
<text x="650.2" y="541.25" font-size="14.4" text-anchor="middle" fill="#1a1a1a" stroke="#1a1a1a">0</text>
<line x1="668.5300000000001" y1="521" x2="668.5300000000001" y2="524.2" stroke="#111" stroke-width="1.8"/>
<line x1="686.86" y1="521" x2="686.86" y2="527.5" stroke="#111" stroke-width="1.8"/>
<text x="686.86" y="541.25" font-size="14.4" text-anchor="middle" fill="#1a1a1a" stroke="#1a1a1a">2</text>
<line x1="705.19" y1="521" x2="705.19" y2="524.2" stroke="#111" stroke-width="1.8"/>
<line x1="723.52" y1="521" x2="723.52" y2="527.5" stroke="#111" stroke-width="1.8"/>
<text x="723.52" y="541.25" font-size="14.4" text-anchor="middle" fill="#1a1a1a" stroke="#1a1a1a">4</text>
<line x1="741.85" y1="521" x2="741.85" y2="524.2" stroke="#111" stroke-width="1.8"/>
<line x1="760.1800000000001" y1="521" x2="760.1800000000001" y2="527.5" stroke="#111" stroke-width="1.8"/>
<text x="760.1800000000001" y="541.25" font-size="14.4" text-anchor="middle" fill="#1a1a1a" stroke="#1a1a1a">6</text>
<line x1="778.51" y1="521" x2="778.51" y2="524.2" stroke="#111" stroke-width="1.8"/>
<line x1="796.84" y1="521" x2="796.84" y2="527.5" stroke="#111" stroke-width="1.8"/>
<text x="796.84" y="541.25" font-size="14.4" text-anchor="middle" fill="#1a1a1a" stroke="#1a1a1a">8</text>
<line x1="815.1700000000001" y1="521" x2="815.1700000000001" y2="524.2" stroke="#111" stroke-width="1.8"/>
<line x1="833.5" y1="521" x2="833.5" y2="527.5" stroke="#111" stroke-width="1.8"/>
<text x="833.5" y="541.25" font-size="14.4" text-anchor="middle" fill="#1a1a1a" stroke="#1a1a1a">10</text>
<text fill="#1a1a1a" stroke="#1a1a1a"><tspan x="594.7" y="565.1" font-size="17.5" letter-spacing="0.2">Fluid</tspan><tspan x="636.5" y="565.1" font-size="17.5" letter-spacing="0">δ</tspan><tspan x="647.5" y="557.4" font-size="7.5" letter-spacing="0.3">13</tspan><tspan x="656" y="565.1" font-size="17.5" letter-spacing="0">C</tspan><tspan x="668.6" y="567.9" font-size="8.5" letter-spacing="0.9">PDB</tspan><tspan x="688.9" y="565.1" font-size="17.5" letter-spacing="0">(‰)</tspan></text>
<rect x="703.4" y="380.3" width="116.39999999999998" height="9.899999999999977" fill="none" stroke="#222" stroke-width="1.8"/>
<text x="686.3" y="374.4" font-size="14.7" text-anchor="start" font-weight="normal"  fill="#1a1a1a" stroke="#1a1a1a">lacustrine water influence</text>
<rect x="503.75" y="411" width="72.75" height="9.75" fill="none" stroke="#222" stroke-width="1.8"/>
<text x="481.25" y="404.25" font-size="14.4" text-anchor="start" font-weight="normal"  fill="#1a1a1a" stroke="#1a1a1a">Magmatic influence</text>
<rect x="522.25" y="441.75" width="63.5" height="9.75" fill="none" stroke="#222" stroke-width="1.8"/>
<text x="481.25" y="435.5" font-size="14.4" text-anchor="start" font-weight="normal"  fill="#1a1a1a" stroke="#1a1a1a">Meteoric water influence</text>
<rect x="577" y="472.25" width="145.75" height="10.0" fill="none" stroke="#222" stroke-width="1.8"/>
<text x="623.75" y="466.25" font-size="14.4" text-anchor="start" font-weight="normal"  fill="#1a1a1a" stroke="#1a1a1a">Seawater</text>
<rect x="588.5" y="502.5" width="36.5" height="10.0" fill="none" stroke="#c8262c" stroke-width="1.8"/>
<text x="574.5" y="496.25" font-size="14.4" text-anchor="start" font-weight="normal"  fill="#c8262c" stroke="#c8262c">Study area</text>
</svg></body></html>
